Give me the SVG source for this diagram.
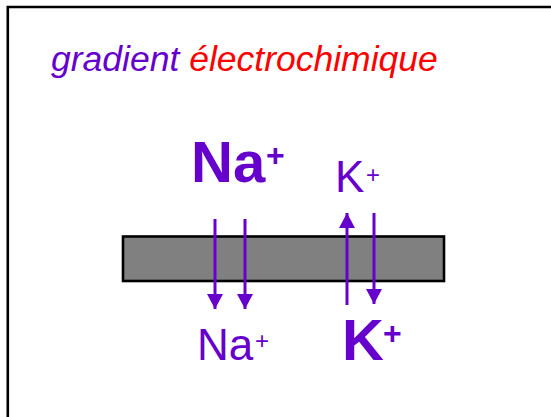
<svg xmlns="http://www.w3.org/2000/svg" width="551" height="417" viewBox="0 0 551 417">
<defs>
<style>
.t{font-family:"Liberation Sans",Arial,sans-serif;fill:#6600CC}
.b{font-weight:bold}
.ar{stroke:#6600CC;stroke-width:3;fill:none}
</style>
<marker id="ah" markerUnits="userSpaceOnUse" markerWidth="16" markerHeight="16" viewBox="0 0 16 16" refX="15" refY="8" orient="auto">
<path d="M0,0 L15,8 L0,16 Z" fill="#6600CC"/>
</marker>
</defs>
<rect width="551" height="417" fill="#fff"/>
<path d="M7.8,420 V7 H560" fill="none" stroke="#000" stroke-width="2.6"/>
<g id="title">
<text x="51" y="71" class="t" font-size="35.5" font-style="italic">gradient <tspan fill="#FF0000">électrochimique</tspan></text>
</g>
<g id="membrane">
<rect x="123" y="236.5" width="321" height="44.5" fill="#808080" stroke="#000" stroke-width="2.6"/>
</g>
<g id="na-out">
<text x="191" y="182" class="t b" font-size="58">Na</text>
<text x="266" y="166" class="t b" font-size="32">+</text>
</g>
<g id="k-out">
<text x="335" y="192" class="t" font-size="44">K</text>
<text x="366" y="183" class="t" font-size="24">+</text>
</g>
<g id="na-in">
<text x="197" y="360" class="t" font-size="44">Na</text>
<text x="255" y="349" class="t" font-size="24">+</text>
</g>
<g id="k-in">
<text x="342" y="360" class="t b" font-size="58">K</text>
<text x="383" y="344" class="t b" font-size="32">+</text>
</g>
<g id="connectors">
<line class="ar" x1="215" y1="219" x2="215" y2="309" marker-end="url(#ah)"/>
<line class="ar" x1="245" y1="219" x2="245" y2="309" marker-end="url(#ah)"/>
<line class="ar" x1="347" y1="305" x2="347" y2="213" marker-end="url(#ah)"/>
<line class="ar" x1="374" y1="213" x2="374" y2="304" marker-end="url(#ah)"/>
</g>
</svg>
